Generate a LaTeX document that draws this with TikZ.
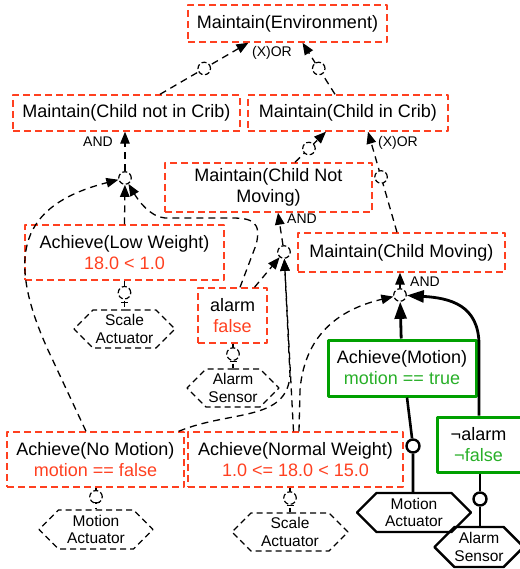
\documentclass[tikz,border=0pt]{standalone}
\usepackage{fontspec}
\setmainfont{Liberation Sans}
\usetikzlibrary{arrows.meta,shapes.symbols}

\definecolor{goalred}{RGB}{255,64,32}
\definecolor{goalgreen}{RGB}{0,160,0}
\definecolor{textgreen}{RGB}{40,175,40}

\begin{document}
\begin{tikzpicture}[x=1pt, y=-1pt, line join=round,
    goal/.style={draw=goalred, line width=1.4pt, dash pattern=on 7pt off 4pt,
      inner sep=0pt, align=center, font=\fontsize{18}{21}\selectfont},
    goalok/.style={draw=goalgreen, line width=3pt,
      inner sep=0pt, align=center, font=\fontsize{18}{21}\selectfont},
    res/.style={signal, signal to=west and east, draw, line width=2.4pt,
      inner sep=0pt, align=center, font=\fontsize{15.5}{17.5}\selectfont},
    resdash/.style={res, line width=1.3pt, dash pattern=on 6pt off 4pt},
    link/.style={line width=1.3pt, dash pattern=on 7pt off 5pt,
      -{Triangle[length=12pt,width=9.5pt]}},
    linkok/.style={line width=2.8pt, -{Triangle[length=17pt,width=12pt]}},
    uses/.style={line width=1.3pt, dash pattern=on 6pt off 4pt},
    usesok/.style={line width=2.6pt},
    junct/.style={circle, draw, fill=white, line width=1.2pt,
      dash pattern=on 5pt off 2.5pt, minimum size=12.5pt, inner sep=0pt},
    sockok/.style={circle, draw, fill=white, line width=2.4pt,
      minimum size=13pt, inner sep=0pt},
    lbl/.style={font=\fontsize{14}{16}\selectfont, inner sep=0pt}
  ]
  \useasboundingbox (0,0) rectangle (519,569);

  % goals
  \node[goal, minimum width=199pt, minimum height=37pt] (env) at (287.5,23.5) {Maintain(Environment)};
  \node[goal, minimum width=227pt, minimum height=36pt] (notcrib) at (126.5,113) {Maintain(Child not in Crib)};
  \node[goal, minimum width=200pt, minimum height=36pt] (incrib) at (348,113) {Maintain(Child in Crib)};
  \node[goal, minimum width=207pt, minimum height=49pt] (notmoving) at (268.5,187.5) {Maintain(Child Not\\Moving)};
  \node[goal, minimum width=207pt, minimum height=39pt] (moving) at (401.5,252.5) {Maintain(Child Moving)};

  % leaf goals and expectations
  \node[goal, minimum width=199pt, minimum height=55pt] (lowweight) at (124.5,252.5)
    {Achieve(Low Weight)\\\textcolor{goalred}{18.0 < 1.0}};
  \node[goal, minimum width=69pt, minimum height=55pt] (alarm) at (232.5,315.5)
    {alarm\\\textcolor{goalred}{false}};
  \node[goal, minimum width=177pt, minimum height=55pt] (nomotion) at (95.5,459.5)
    {Achieve(No Motion)\\\textcolor{goalred}{motion == false}};
  \node[goal, minimum width=215pt, minimum height=55pt] (normalweight) at (295.5,459.5)
    {Achieve(Normal Weight)\\\textcolor{goalred}{1.0 <= 18.0 < 15.0}};
  \node[goalok, minimum width=148pt, minimum height=56pt] (motion) at (402,368)
    {Achieve(Motion)\\\textcolor{textgreen}{motion == true}};
  % box runs off the right edge, text kept at x=478
  \node[goalok, minimum width=95pt, minimum height=55pt] (notalarm) at (484.5,444.5)
    {¬alarm\hspace*{12pt}\\\textcolor{textgreen}{¬false}\hspace*{12pt}};

  % agents
  \node[resdash, minimum width=101pt, minimum height=38pt] (scaleA) at (124.5,329) {Scale\\Actuator};
  \node[resdash, minimum width=92pt, minimum height=38pt] (sensorA) at (233,388) {Alarm\\Sensor};
  \node[resdash, minimum width=114pt, minimum height=39pt] (motionA) at (96,529.5) {Motion\\Actuator};
  \node[resdash, minimum width=116pt, minimum height=38pt] (scaleB) at (290,532) {Scale\\Actuator};
  \node[res, minimum width=114pt, minimum height=39pt] (motionB) at (414,512.5) {Motion\\Actuator};
  \node[res, minimum width=82pt, minimum height=40pt] (sensorB) at (479,547) {Alarm\\Sensor};

  % refinement junctions
  \node[junct] (j1) at (125,178) {};
  \node[junct] (j2) at (284,252) {};
  \node[junct] (j3) at (400,295) {};

  % (X)OR refinements
  \draw[link] ([xshift=33.5pt]notcrib.north) -- node[junct, pos=.5] {} ([xshift=-39pt]env.south);
  \draw[link] ([xshift=-13pt]incrib.north) -- node[junct, pos=.5] {} ([xshift=15pt]env.south);
  \node[lbl] at (272,53) {(X)OR};
  \draw[link] ([xshift=26.5pt]notmoving.north) -- node[junct, pos=.45] {} ([xshift=-22pt]incrib.south);
  \draw[link] ([xshift=-4.5pt]moving.north) -- node[junct, pos=.55] {} ([xshift=20pt]incrib.south);
  \node[lbl] at (398,143) {(X)OR};

  % AND refinements
  \draw[link] (j1) -- (j1 |- notcrib.south);
  \node[lbl] at (98,142) {AND};
  \draw[link] (j2) -- ([xshift=9.5pt]notmoving.south);
  \node[lbl] at (302,219) {AND};
  \draw[link] (j3) -- (j3 |- moving.south);
  \node[lbl] at (425,282) {AND};

  % into Maintain(Child not in Crib)
  \draw[link] (lowweight.north) -- (j1);
  \draw[link] ([xshift=-9.5pt]nomotion.north) -- (48,350)
    .. controls (5,255) and (20,205) .. (j1);
  \draw[link] ([xshift=7.5pt]alarm.north) -- (256,245)
    .. controls (262,222) and (252,218) .. (232,218) -- (165,218)
    .. controls (150,217) and (138,200) .. (j1);

  % into Maintain(Child Not Moving)
  \draw[link] ([xshift=22pt]alarm.north) -- (j2);
  \draw[link] ([xshift=-2pt]normalweight.north) -- (j2);
  \draw[link] ([xshift=-6pt]nomotion.north east)
    .. controls (230,410) and (287,422) .. (290,375) -- (j2);

  % into Maintain(Child Moving)
  \draw[link] ([xshift=3.5pt]normalweight.north) -- (300,390)
    .. controls (305,330) and (345,308) .. (j3);
  \draw[linkok] (motion) -- (j3);
  \draw[linkok] (notalarm.north -| sensorB) -- (479,345)
    .. controls (479,305) and (450,298) .. (j3);

  % agent assignments
  \foreach \g/\a in {lowweight/scaleA, alarm/sensorA, nomotion/motionA, normalweight/scaleB} {
    \draw[uses] (\g.south -| \a.north) -- node[junct, pos=.42] {} (\a.north);
    \draw[line width=1.3pt] ([shift={(-3.5,-7)}]\a.north) -- ++(7,0);
  }
  \node[sockok] (socketM) at (413,446) {};
  \node[sockok] (socketS) at (480,499) {};
  \draw[usesok] ([xshift=5pt]motion.south) -- (socketM) -- (motionB.north -| socketM);
  \draw[usesok] (notalarm.south -| socketS) -- (socketS) -- (sensorB.north -| socketS);
\end{tikzpicture}
\end{document}
